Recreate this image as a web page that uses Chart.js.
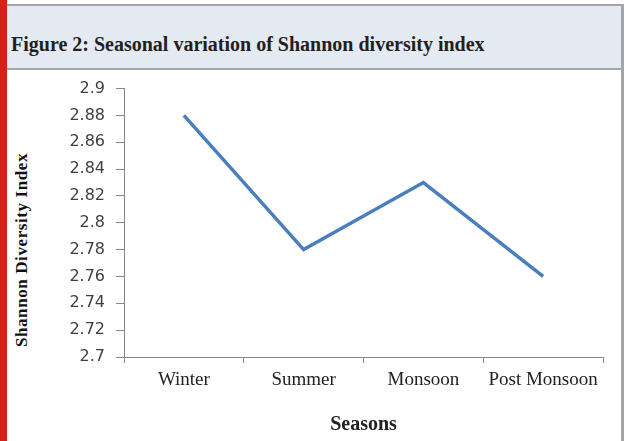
<!DOCTYPE html>
<html>
<head>
<meta charset="utf-8">
<script src="https://cdn.jsdelivr.net/npm/chart.js@4/dist/chart.umd.min.js"></script>
<style>
  html, body { margin: 0; padding: 0; background: #fff; }
  #page { position: relative; width: 627px; height: 441px; overflow: hidden; }
  #redbar { position: absolute; left: 0; top: 0; width: 7px; height: 441px; background: #d2231a; }
  #frame { position: absolute; left: 7px; top: 4px; width: 614px; height: 435px;
           border-top: 2px solid #a4a5a8; border-right: 3px solid #a4a5a8; border-bottom: 2px solid #a4a5a8; }
  #header { position: absolute; left: 0; top: 0; width: 614px; height: 62px; background: #e3eaf1;
            border-bottom: 2px solid #a4a5a8; }
  #header h1 { margin: 0; position: absolute; left: 4px; top: 27px; font: bold 20px "Liberation Serif", "Times New Roman", serif;
               color: #231f20; white-space: nowrap; }
  #ytitle { position: absolute; left: 22px; top: 250px; transform: translate(-50%, -50%) rotate(-90deg);
            font: bold 17px "Liberation Serif", "Times New Roman", serif; letter-spacing: 0.6px; color: #111; white-space: nowrap; }
  #wrap { position: absolute; left: 7px; top: 68px; width: 614px; height: 371px; }
</style>
</head>
<body>
<div id="page">
  <div id="redbar"></div>
  <div id="frame">
    <div id="header"><h1>Figure 2: Seasonal variation of Shannon diversity index</h1></div>
  </div>
  <div id="ytitle">Shannon Diversity Index</div>
  <div id="wrap"><canvas id="chart" width="614" height="371"></canvas></div>
</div>
<script>
const seasons = ['Winter', 'Summer', 'Monsoon', 'Post Monsoon'];
const shannonIndex = [2.88, 2.78, 2.83, 2.76];
const Y_MIN = 2.7;
const Y_MAX = 2.9;
const Y_STEP = 0.02;

const axisColor = '#868686';
const serif = '"Liberation Serif", "Times New Roman", serif';

new Chart(document.getElementById('chart'), {
  type: 'line',
  data: {
    labels: seasons,
    datasets: [{
      label: 'Shannon Diversity Index',
      data: shannonIndex,
      borderColor: '#4a7ebf',
      borderWidth: 3.5,
      pointRadius: 0,
      tension: 0,
      fill: false,
    }],
  },
  options: {
    responsive: false,
    animation: false,
    layout: { padding: { top: 8, right: 18, bottom: 0, left: 0 } },
    plugins: { legend: { display: false }, tooltip: { enabled: false } },
    scales: {
      x: {
        offset: true,
        grid: { drawOnChartArea: false, offset: true, color: axisColor, tickLength: 6, tickColor: axisColor },
        border: { color: axisColor, width: 1 },
        ticks: { color: '#222', padding: 6, maxRotation: 0, font: { family: serif, size: 19 } },
        title: {
          display: true,
          text: 'Seasons',
          color: '#222',
          padding: { top: 4, bottom: 2 },
          font: { family: serif, size: 20, weight: 'bold' },
        },
        afterFit(scale) { scale.height = 82; },
      },
      y: {
        min: Y_MIN,
        max: Y_MAX,
        grid: { drawOnChartArea: false, color: axisColor, tickLength: 8, tickColor: axisColor },
        border: { color: axisColor, width: 1 },
        ticks: {
          stepSize: Y_STEP,
          color: '#404040',
          padding: 11,
          font: { family: '"DejaVu Sans", Verdana, sans-serif', size: 16 },
          callback: v => +v.toFixed(2),
        },
        afterFit(scale) { scale.width = 117; },
      },
    },
  },
});
</script>
</body>
</html>
